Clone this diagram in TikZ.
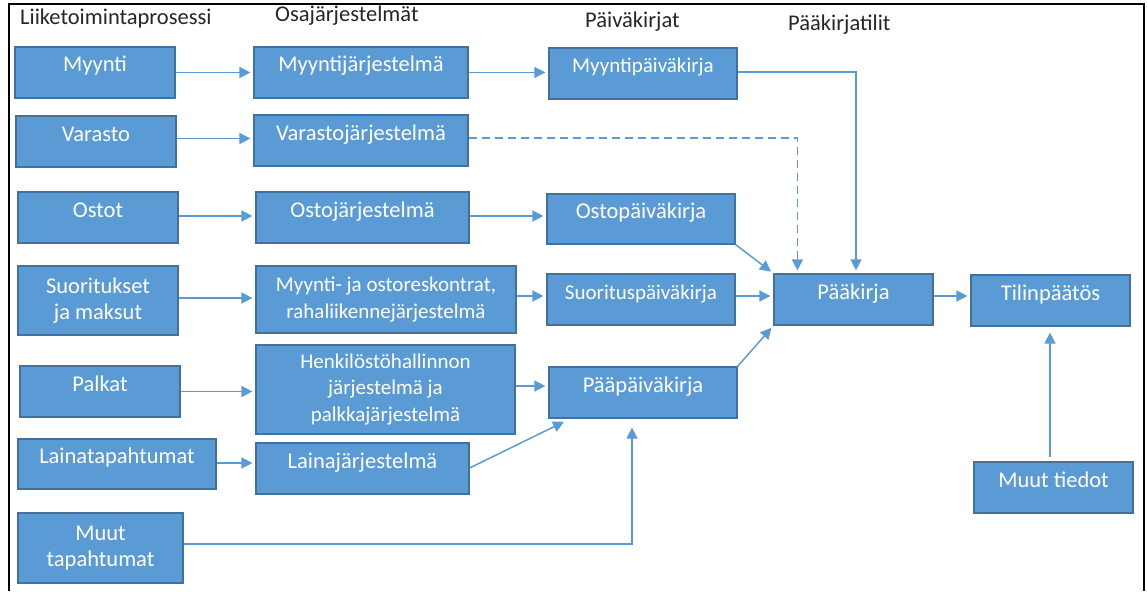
\documentclass[tikz,border=0pt]{standalone}
\usepackage{fontspec}
\setmainfont{Carlito}
\usetikzlibrary{arrows.meta,calc}
\definecolor{boxfill}{HTML}{5B9BD5}
\definecolor{boxedge}{HTML}{41719C}
\definecolor{linkblue}{HTML}{5B9BD5}
\begin{document}
\begin{tikzpicture}[x=1pt,y=-1pt,
  box/.style={draw=boxedge, line width=1.2pt, fill=boxfill, text=white,
    align=center, inner sep=0pt, font=\fontsize{22.5}{26}\selectfont},
  single/.style={text height=15pt, text depth=16pt},
  smalltext/.style={font=\fontsize{21}{26.5}\selectfont},
  conn/.style={draw=linkblue, line width=1.5pt,
    -{Triangle[length=11pt,width=11pt]}, shorten >=3pt},
  head/.style={anchor=base west, inner sep=0pt,
    font=\fontsize{22.5}{26}\selectfont, text=black!85}]
\useasboundingbox (0,0) rectangle (1147,591);

% outer frame (open at the bottom)
\draw[line width=2.5pt] (9,591) -- (9,4) -- (1144,4) -- (1144,591);

% column headings
\node[head] (h1) at (20,25) {Liiketoimintaprosessi};
\node[head] (h2) at (275,22) {Osajärjestelmät};
\node[head] (h3) at (585,28) {Päiväkirjat};
\node[head] (h4) at (788,31) {Pääkirjatilit};

% business processes
\node[box, single, minimum width=160pt, minimum height=51pt] (myynti) at (95,72.5) {Myynti};
\node[box, single, minimum width=160pt, minimum height=51pt] (varasto) at (96,141.5) {Varasto};
\node[box, single, minimum width=160pt, minimum height=51pt] (ostot) at (98,217.5) {Ostot};
\node[box, minimum width=160pt, minimum height=69pt] (suor) at (98,300.5) {Suoritukset\\ja maksut};
\node[box, single, minimum width=160pt, minimum height=51pt] (palkat) at (100,391.5) {Palkat};
\node[box, single, minimum width=198pt, minimum height=50pt] (laina) at (117,464) {Lainatapahtumat};
\node[box, minimum width=165pt, minimum height=70pt] (muut) at (100.5,548) {Muut\\tapahtumat};

% subsystems
\node[box, single, minimum width=214pt, minimum height=51pt] (myyntij) at (361,72.5) {Myyntijärjestelmä};
\node[box, single, minimum width=214pt, minimum height=51pt] (varastoj) at (361,140.5) {Varastojärjestelmä};
\node[box, single, minimum width=213pt, minimum height=51pt] (ostoj) at (362.5,217.5) {Ostojärjestelmä};
\node[box, smalltext, minimum width=260pt, minimum height=67pt] (resk) at (386,299.5) {Myynti- ja ostoreskontrat,\\rahaliikennejärjestelmä};
\node[box, smalltext, minimum width=259pt, minimum height=89pt] (henk) at (385.5,389.5) {Henkilöstöhallinnon\\järjestelmä ja\\palkkajärjestelmä};
\node[box, single, minimum width=213pt, minimum height=51pt] (lainaj) at (362.5,468.5) {Lainajärjestelmä};

% journals
\node[box, single, smalltext, minimum width=188pt, minimum height=51pt] (myyntipk) at (643,73.5) {Myyntipäiväkirja};
\node[box, single, minimum width=188pt, minimum height=50pt] (ostopk) at (641,219) {Ostopäiväkirja};
\node[box, single, smalltext, minimum width=188pt, minimum height=51pt] (suorpk) at (641,299.5) {Suorituspäiväkirja};
\node[box, single, minimum width=188pt, minimum height=51pt] (paapk) at (643,392.5) {Pääpäiväkirja};

% ledger and statements
\node[box, single, minimum width=159pt, minimum height=51pt] (paakirja) at (853.5,299.5) {Pääkirja};
\node[box, single, minimum width=159pt, minimum height=51pt] (tilin) at (1050.5,300.5) {Tilinpäätös};
\node[box, single, minimum width=159pt, minimum height=51pt] (muuttied) at (1053.5,487.5) {Muut tiedot};

% processes to subsystems
\draw[conn] (myynti.east) -- (myynti.east -| myyntij.west);
\draw[conn] ([yshift=3pt]varasto.east) -- ([yshift=3pt]varasto.east -| varastoj.west);
\draw[conn] ([yshift=1.5pt]ostot.east) -- ([yshift=1.5pt]ostot.east -| ostoj.west);
\draw[conn] ([yshift=2.5pt]suor.east) -- ([yshift=2.5pt]suor.east -| resk.west);
\draw[conn] (palkat.east) -- (palkat.east -| henk.west);
\draw[conn] ([yshift=1pt]laina.east) -- ([yshift=1pt]laina.east -| lainaj.west);

% subsystems to journals
\draw[conn] (myyntij.east) -- (myyntij.east -| myyntipk.west);
\draw[conn] ([yshift=1.5pt]ostoj.east) -- ([yshift=1.5pt]ostoj.east -| ostopk.west);
\draw[conn] ([yshift=3.5pt]resk.east) -- ([yshift=3.5pt]resk.east -| suorpk.west);
\draw[conn] ([yshift=3.5pt]henk.east) -- ([yshift=3.5pt]henk.east -| paapk.west);
\draw[conn, shorten >=0pt] ([yshift=0.5pt]lainaj.east) -- ($(paapk.south west)+(15.6,3.2)$);
\draw[conn, shorten >=9pt] ([yshift=4pt]muut.east) -| ([xshift=-11pt]paapk.south);
\draw[conn, dashed, dash pattern=on 8pt off 5pt] ([yshift=2.5pt]varastoj.east) -| ([xshift=24pt]paakirja.north west);

% journals to the general ledger
\draw[conn] ([yshift=1.5pt]myyntipk.east) -| ([xshift=2.5pt]paakirja.north);
\draw[conn] (ostopk.south east) -- (paakirja.north west);
\draw[conn] ([yshift=3.5pt]suorpk.east) -- ([yshift=3.5pt]suorpk.east -| paakirja.west);
\draw[conn] (paapk.north east) -- (paakirja.south west);

% ledger to financial statements
\draw[conn] ([yshift=3.5pt]paakirja.east) -- ([yshift=3.5pt]paakirja.east -| tilin.west);
\draw[conn, shorten <=4pt, shorten >=6pt] ([xshift=-3.5pt]muuttied.north) -- ([xshift=-3.5pt]muuttied.north |- tilin.south);
\end{tikzpicture}
\end{document}
